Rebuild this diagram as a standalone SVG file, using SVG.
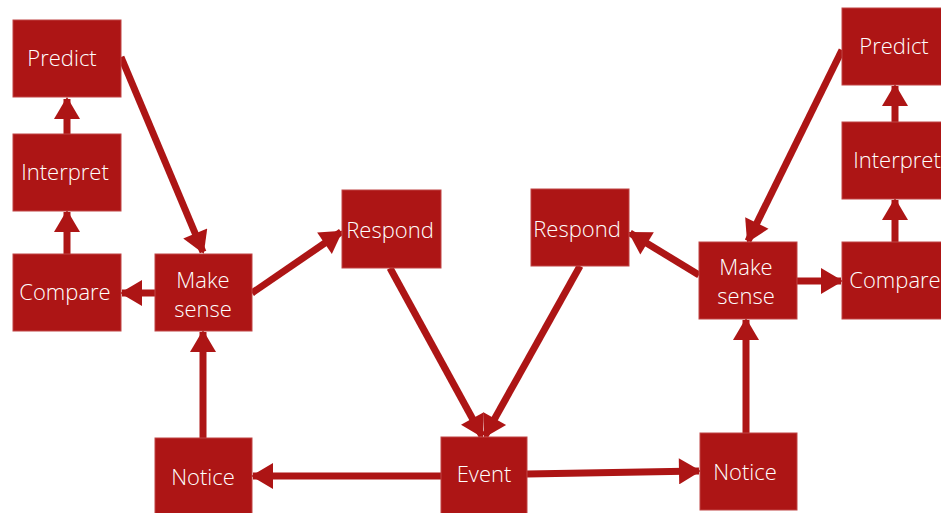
<svg xmlns="http://www.w3.org/2000/svg" width="941" height="513" viewBox="0 0 941 513">
<style>
.box{fill:#AD1515;stroke:#C04545;stroke-width:1}
.lbl{fill:#fff;font-family:"Open Sans","Liberation Sans",sans-serif;font-weight:300;font-size:22px;text-anchor:middle}
.c{stroke:#AD1515;stroke-width:7;fill:none;marker-end:url(#ah)}
</style>
<defs>
<marker id="ah" markerUnits="userSpaceOnUse" markerWidth="26" markerHeight="26" viewBox="0 0 22 26" refX="20" refY="13" orient="auto">
<path d="M0,0 L22,13 L0,26 Z" fill="#AD1515"/>
</marker>
</defs>
<rect width="941" height="513" fill="#fff"/>
<g id="connectors">
<line class="c" x1="121" y1="57" x2="203" y2="252"/>
<line class="c" x1="67" y1="134" x2="67" y2="99"/>
<line class="c" x1="67" y1="254" x2="67" y2="212"/>
<line class="c" x1="155" y1="293" x2="122" y2="293"/>
<line class="c" x1="252" y1="293" x2="341" y2="232"/>
<line class="c" x1="203" y1="438" x2="203" y2="332"/>
<line class="c" x1="390" y1="268" x2="482" y2="436"/>
<line class="c" x1="580" y1="266" x2="485" y2="436"/>
<line class="c" x1="441" y1="476" x2="253" y2="476"/>
<line class="c" x1="527" y1="474" x2="699" y2="471"/>
<line class="c" x1="746" y1="433" x2="746" y2="320"/>
<line class="c" x1="699" y1="275" x2="630" y2="233"/>
<line class="c" x1="797" y1="281" x2="841" y2="281"/>
<line class="c" x1="895" y1="242" x2="895" y2="200"/>
<line class="c" x1="895" y1="122" x2="895" y2="86"/>
<line class="c" x1="842" y1="50" x2="748" y2="241"/>
</g>
<g id="predict-l"><rect class="box" x="13" y="20" width="108" height="77"/><text class="lbl" x="62" y="66">Predict</text></g>
<g id="interpret-l"><rect class="box" x="13" y="134" width="108" height="77"/><text class="lbl" x="65" y="180">Interpret</text></g>
<g id="compare-l"><rect class="box" x="13" y="254" width="108" height="77"/><text class="lbl" x="65" y="300">Compare</text></g>
<g id="makesense-l"><rect class="box" x="155" y="254" width="97" height="77"/><text class="lbl" x="203" y="288">Make</text><text class="lbl" x="203" y="317">sense</text></g>
<g id="respond-l"><rect class="box" x="342" y="190" width="99" height="78"/><text class="lbl" x="390" y="238">Respond</text></g>
<g id="respond-r"><rect class="box" x="531" y="189" width="98" height="77"/><text class="lbl" x="577" y="237">Respond</text></g>
<g id="makesense-r"><rect class="box" x="699" y="242" width="98" height="77"/><text class="lbl" x="746" y="275">Make</text><text class="lbl" x="746" y="304">sense</text></g>
<g id="predict-r"><rect class="box" x="842" y="8" width="108" height="77"/><text class="lbl" x="894" y="54">Predict</text></g>
<g id="interpret-r"><rect class="box" x="842" y="122" width="108" height="77"/><text class="lbl" x="897" y="168">Interpret</text></g>
<g id="compare-r"><rect class="box" x="842" y="242" width="108" height="77"/><text class="lbl" x="895" y="288">Compare</text></g>
<g id="notice-l"><rect class="box" x="155" y="438" width="97" height="80"/><text class="lbl" x="203" y="485">Notice</text></g>
<g id="event"><rect class="box" x="441" y="437" width="86" height="80"/><text class="lbl" x="484" y="482">Event</text></g>
<g id="notice-r"><rect class="box" x="700" y="433" width="97" height="77"/><text class="lbl" x="745" y="480">Notice</text></g>
</svg>
